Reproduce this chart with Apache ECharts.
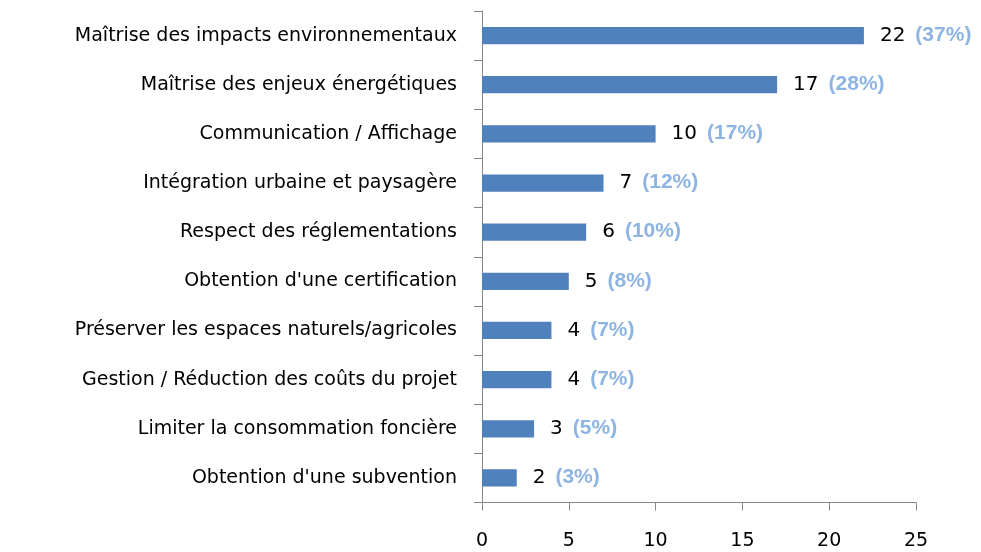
<!DOCTYPE html>
<html><head><meta charset="utf-8">
<script src="https://cdn.jsdelivr.net/npm/echarts@6/dist/echarts.min.js"></script>
<style>html,body{margin:0;padding:0;background:#fff}#c{width:981px;height:552px}</style>
</head><body><div id="c"></div>
<script>
const categories = [
  "Maîtrise des impacts environnementaux",
  "Maîtrise des enjeux énergétiques",
  "Communication / Affichage",
  "Intégration urbaine et paysagère",
  "Respect des réglementations",
  "Obtention d'une certification",
  "Préserver les espaces naturels/agricoles",
  "Gestion / Réduction des coûts du projet",
  "Limiter la consommation foncière",
  "Obtention d'une subvention"
];
const counts = [22, 17, 10, 7, 6, 5, 4, 4, 3, 2];
const percents = [37, 28, 17, 12, 10, 8, 7, 7, 5, 3];
const xTicks = [0, 5, 10, 15, 20, 25];

const FONT = "DejaVu Sans";
const chart = echarts.init(document.getElementById('c'), null, {renderer: 'canvas'});
chart.setOption({
  animation: false,
  grid: {left: 482, right: 65, top: 11, bottom: 49.5, containLabel: false},
  xAxis: {
    type: 'value', min: xTicks[0], max: xTicks[xTicks.length - 1], interval: 5,
    axisLine: {show: true, lineStyle: {color: '#868686', width: 1}},
    axisTick: {show: true, length: 8, lineStyle: {color: '#868686'}},
    splitLine: {show: false},
    axisLabel: {margin: 29, color: '#000', fontFamily: FONT, fontSize: 19}
  },
  yAxis: {
    type: 'category', data: categories, inverse: true,
    axisLine: {show: true, lineStyle: {color: '#868686', width: 1}},
    axisTick: {show: true, length: 8, alignWithLabel: false, lineStyle: {color: '#868686'}},
    axisLabel: {margin: 25, color: '#000', fontFamily: FONT, fontSize: 19}
  },
  series: [{
    type: 'bar',
    data: counts,
    barWidth: '35%',
    itemStyle: {color: '#4F81BD'},
    label: {
      show: true, position: 'right', distance: 16,
      formatter: p => '{v|' + p.value + '}{p|(' + percents[p.dataIndex] + '%)}',
      rich: {
        v: {color: '#000', fontFamily: FONT, fontSize: 20, lineHeight: 24, verticalAlign: 'middle'},
        p: {color: '#8DB4E2', fontFamily: 'Liberation Sans', fontSize: 21, fontWeight: 'bold', lineHeight: 24, verticalAlign: 'middle', padding: [0, 0, 1, 10]}
      }
    }
  }]
});
</script></body></html>
